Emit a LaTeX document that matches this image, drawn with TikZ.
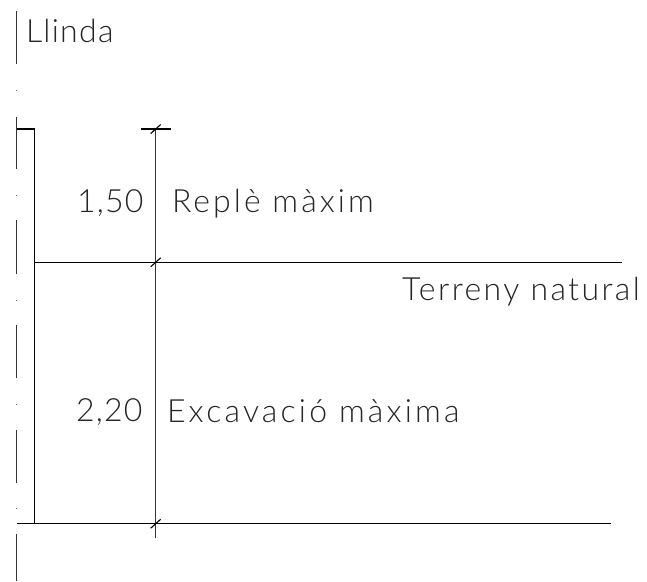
\documentclass[tikz,border=0pt]{standalone}
\usepackage{fontspec}
\setmainfont{Lato}[UprightFont=* Light]
\newfontface\cadA{Lato Light}[LetterSpace=4]
\newfontface\cadB{Lato Light}[LetterSpace=7.5]
\newfontface\cadC{Lato Light}[LetterSpace=9.5]
\newfontface\cadD{Lato Light}[LetterSpace=10]
\newcommand{\cadsize}{\fontsize{32}{32}\selectfont}
\tikzset{
  lbl/.style={anchor=base west,inner sep=0pt,outer sep=0pt,text=black!85},
  cad/.style={line width=1.1pt,black},
  dim/.style={line width=1.1pt,black!80},
  tick/.style={line width=1.1pt,black},
  axisline/.style={line width=1.1pt,black!80}
}
\begin{document}
\begin{tikzpicture}[x=1pt,y=-1pt]
\useasboundingbox (0,0) rectangle (647,581);
% centre line
\foreach \a/\b in {11/64,117/169,220/274,325/378,430/483,534/581}
  \draw[axisline] (16.8,\a) -- (16.8,\b);
\foreach \d in {90,195,300,404,508}
  \draw[line width=0.7pt,black!60] (16.3,\d) -- (17.3,\d);
% coordinates
\coordinate (wt) at (34.7,129);
\coordinate (wm) at (34.7,262.3);
\coordinate (wb) at (34.7,523.7);
\coordinate (ct) at (16.8,129);
\coordinate (cb) at (16.8,523.7);
\coordinate (tr) at (622,262.3);
\coordinate (br) at (611,523.7);
\coordinate (dt) at (155.7,129);
\coordinate (dm) at (155.7,262.3);
\coordinate (db) at (155.7,523.7);
\coordinate (de) at (155.7,538);
\coordinate (el) at (141,129);
\coordinate (er) at (171,129);
% wall and ground
\draw[cad] (ct) -- (wt) -- (wb);
\draw[cad] (wm) -- (tr);
\draw[cad] (cb) -- (br);
% dimension
\draw[dim] (dt) -- (de);
\draw[cad] (el) -- (er);
\foreach \p in {dt,dm,db}
  \draw[tick] ([shift={(-5,4.5)}]\p) -- ([shift={(5,-4.5)}]\p);
% labels
\node[lbl,font=\cadA\cadsize] (llinda) at (26,42) {Llinda};
\node[lbl,font=\cadA\cadsize] (d150) at (77,212) {1,50};
\node[lbl,font=\cadC\cadsize] (reple) at (172,212) {Replè màxim};
\node[lbl,font=\cadB\cadsize] (terreny) at (402,300) {Terreny natural};
\node[lbl,font=\cadA\cadsize] (d220) at (76,421) {2,20};
\node[lbl,font=\cadD\cadsize] (excav) at (167,422) {Excavació màxima};
\end{tikzpicture}
\end{document}
